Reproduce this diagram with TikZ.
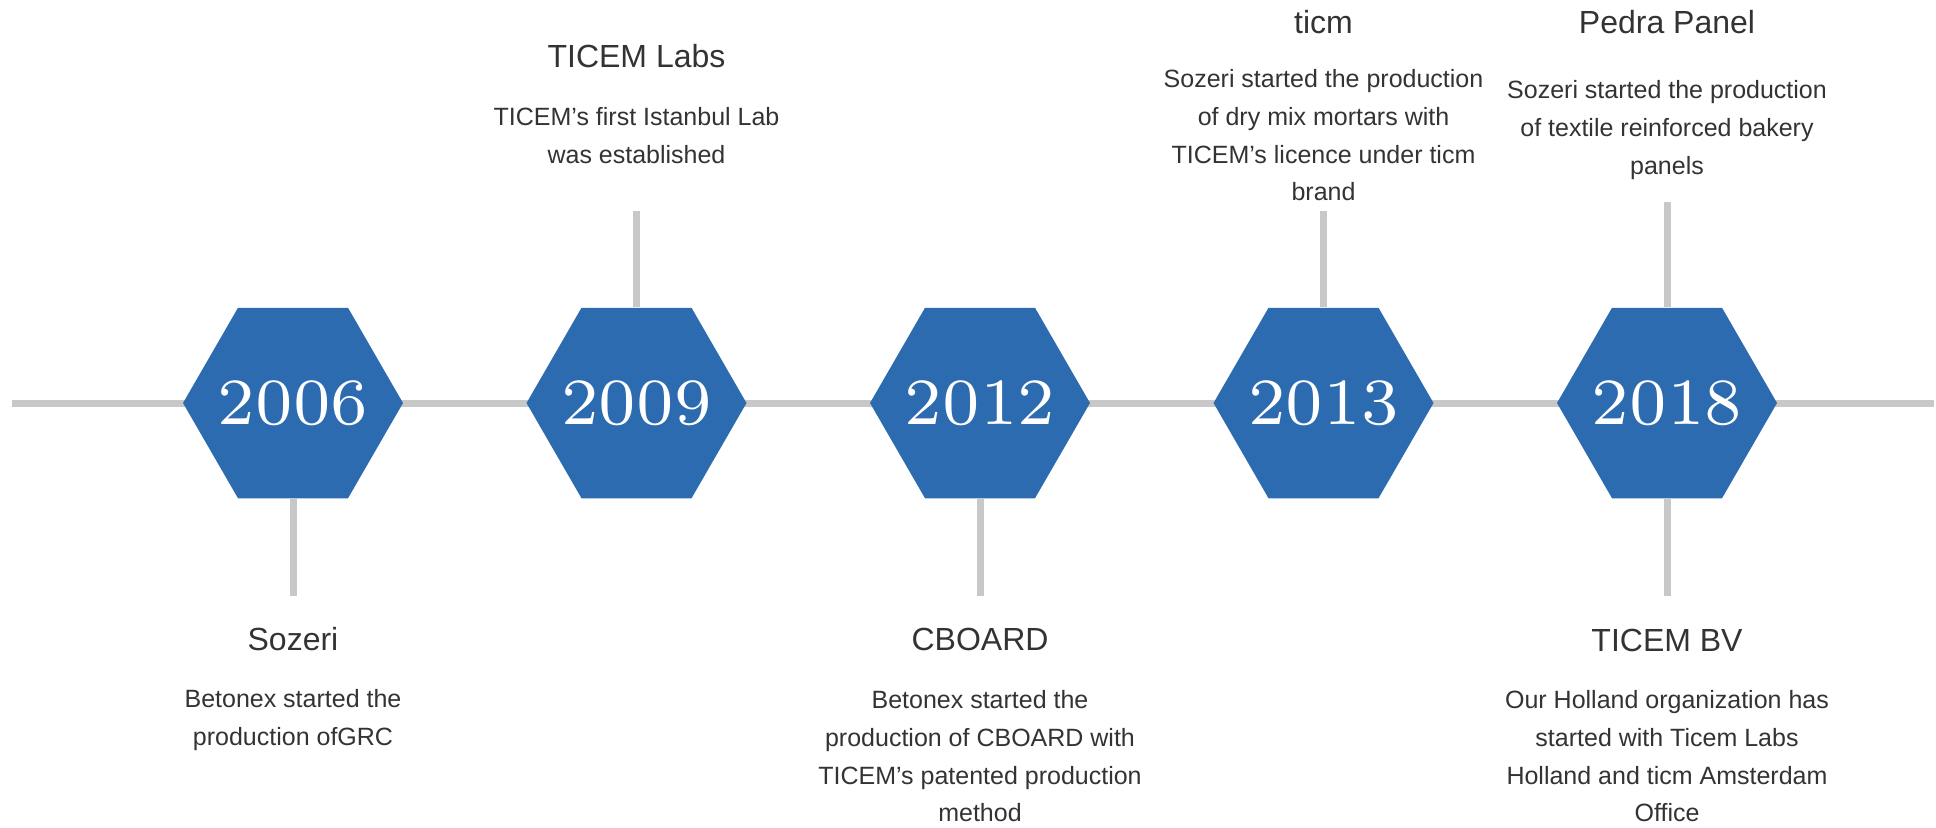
\documentclass[tikz,border=0pt]{standalone}
\usepackage{fontspec}
\setsansfont{Liberation Sans}
\newfontfamily\yearfont{lmroman7-regular.otf}
\usepackage{tikz}
\usetikzlibrary{shapes.geometric,backgrounds}

\definecolor{ticemblue}{RGB}{44,107,176}
\definecolor{linegray}{RGB}{200,200,200}
\definecolor{textgray}{RGB}{51,51,51}

\begin{document}
\begin{tikzpicture}[x=0.5pt, y=-0.5pt,
    yeartext/.style={inner sep=0pt, text=white, font=\yearfont\fontsize{33pt}{33pt}\selectfont},
    yearhex/.style={regular polygon, regular polygon sides=6, minimum size=110pt, inner sep=0pt,
      fill=ticemblue, label={[yeartext]center:#1}},
    headline/.style={anchor=base, inner sep=0pt, text=textgray, font=\sffamily\fontsize{16pt}{19pt}\selectfont},
    blurb/.style={anchor=north, align=center, inner sep=0pt, text=textgray,
      font=\sffamily\fontsize{12.5pt}{18.9pt}\selectfont},
    stem/.style={draw=linegray, line width=3.5pt}]

    \useasboundingbox (0,0) rectangle (1936,827);

    \node[yearhex=2006] (y2006) at (293,403) {};
    \node[yearhex=2009] (y2009) at (636.5,403) {};
    \node[yearhex=2012] (y2012) at (980,403) {};
    \node[yearhex=2013] (y2013) at (1323.5,403) {};
    \node[yearhex=2018] (y2018) at (1667,403) {};

    \coordinate (lineL) at (12,403);
    \coordinate (lineR) at (1934,403);
    \coordinate (s2006) at (293,596);
    \coordinate (s2009) at (636.5,211);
    \coordinate (s2012) at (980,596);
    \coordinate (s2013) at (1323.5,211);
    \coordinate (s2018a) at (1667,202);
    \coordinate (s2018b) at (1667,596);

    \begin{scope}[on background layer]
      \draw[stem] (lineL) -- (y2006.center) -- (y2009.center) -- (y2012.center)
        -- (y2013.center) -- (y2018.center) -- (lineR);
      \draw[stem] (y2006.south) -- (s2006);
      \draw[stem] (y2009.north) -- (s2009);
      \draw[stem] (y2012.south) -- (s2012);
      \draw[stem] (y2013.north) -- (s2013);
      \draw[stem] (y2018.north) -- (s2018a);
      \draw[stem] (y2018.south) -- (s2018b);
    \end{scope}

    \node[headline] (t2006) at (293,650) {Sozeri};
    \node[blurb] (d2006) at (293,689) {Betonex started the\\production ofGRC};

    \node[headline] (t2009) at (636.5,67) {TICEM Labs};
    \node[blurb] (d2009) at (636.5,107) {TICEM's first Istanbul Lab\\was established};

    \node[headline] (t2012) at (980,650) {CBOARD};
    \node[blurb] (d2012) at (980,690) {Betonex started the\\production of CBOARD with\\TICEM's patented production\\method};

    \node[headline] (t2013) at (1323.5,33) {ticm};
    \node[blurb] (d2013) at (1323.5,69) {Sozeri started the production\\of dry mix mortars with\\TICEM's licence under ticm\\brand};

    \node[headline] (t2018a) at (1667,33) {Pedra Panel};
    \node[blurb] (d2018a) at (1667,80) {Sozeri started the production\\of textile reinforced bakery\\panels};

    \node[headline] (t2018b) at (1667,651) {TICEM BV};
    \node[blurb] (d2018b) at (1667,690) {Our Holland organization has\\started with Ticem Labs\\Holland and ticm Amsterdam\\Office};
  \end{tikzpicture}
\end{document}
